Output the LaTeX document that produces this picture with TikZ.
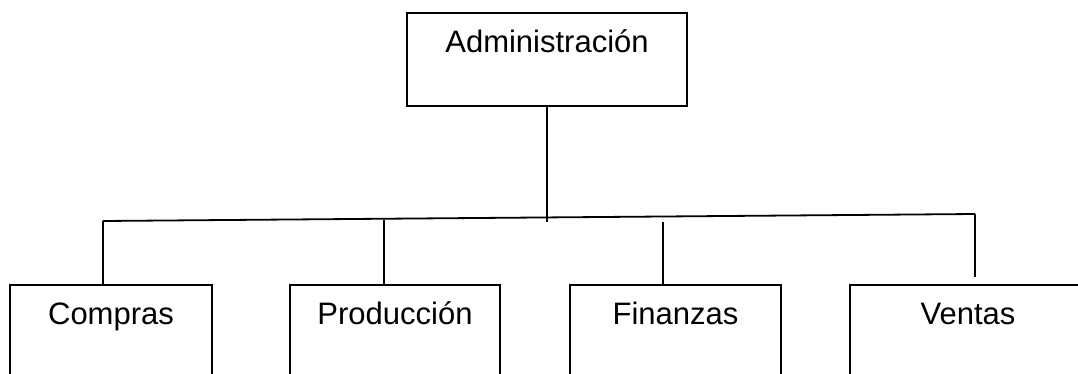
\documentclass[tikz,border=0pt]{standalone}
\usepackage{fontspec}
\setmainfont{Liberation Sans}
\usepackage{tikz}
\tikzset{box/.style={draw, line width=1.8pt, inner sep=0pt, anchor=north, text height=40pt, font=\fontsize{31}{31}\selectfont}}
\tikzset{ln/.style={line width=1.8pt}}

\begin{document}
\begin{tikzpicture}[x=1pt, y=-1pt]
    \clip (0,0) rectangle (1078,374);
    \node [box, minimum width=280pt, text depth=53pt] (adm) at (547,12) {Administración};
    \node [box, minimum width=202pt, text depth=60pt] (comp) at (111,284) {Compras};
    \node [box, minimum width=210pt, text depth=60pt] (prod) at (395,284) {Producción};
    \node [box, minimum width=211pt, text depth=60pt] (fin) at (675.5,284) {Finanzas};
    \node [box, minimum width=236pt, text depth=60pt] (vent) at (968,284) {Ventas};
    % bus line
    \coordinate (bl) at (103,221);
    \coordinate (br) at (975,214);
    \coordinate (j) at (547,222);
    \coordinate (p) at (384,220);
    \coordinate (f) at (663,222);
    \coordinate (v) at (975,277);
    \draw [ln] (adm.south) -- (j);
    \draw [ln] (bl) -- (br);
    \draw [ln] (bl) -- (bl |- comp.north);
    \draw [ln] (p) -- (p |- prod.north);
    \draw [ln] (f) -- (f |- fin.north);
    \draw [ln] (br) -- (v);
\end{tikzpicture}
\end{document}
